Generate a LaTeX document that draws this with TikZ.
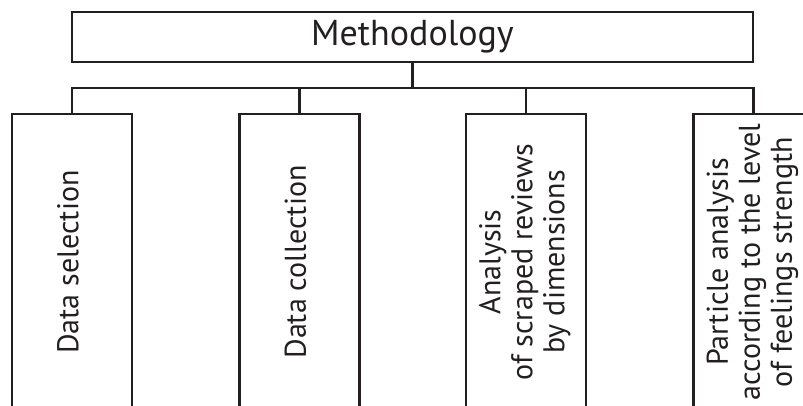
\documentclass[tikz,border=0pt]{standalone}
\usepackage{fontspec}
\setmainfont{PT Sans}
\usetikzlibrary{positioning}
\definecolor{inkgray}{HTML}{231F20}

\tikzset{
  topbox/.style={draw=inkgray, line width=2.4pt, minimum width=681pt, minimum height=50pt,
    inner sep=0pt, font=\fontsize{36}{38}\selectfont, text=inkgray},
  stagebox/.style={draw=inkgray, line width=2.4pt, minimum width=120pt, minimum height=296pt,
    inner sep=0pt, font=\fontsize{30}{32}\selectfont, text=inkgray},
  link/.style={draw=inkgray, line width=2.4pt}
}
\newcommand{\uptext}[1]{\rotatebox{90}{\begin{tabular}{@{}c@{}}#1\end{tabular}}}

\begin{document}
\begin{tikzpicture}[x=1pt, y=-1pt]
    \clip (0,0) rectangle (803,405);
    \useasboundingbox (0,0) rectangle (803,405);

    % Top box
    \node[topbox] (method) at (412.5,37) {Methodology};

    % Stages
    \node[stagebox] (sel) at (72,262) {\uptext{Data selection}};
    \node[stagebox] (col) at (299.5,262) {\uptext{Data collection}};
    \node[stagebox] (ana) at (526,262) {\uptext{Analysis\\of scraped reviews\\by dimensions}};
    \node[stagebox] (par) at (753.5,262) {\uptext{Particle analysis\\according to the level\\of feelings strength}};

    % Connectors
    \coordinate (bus) at (412.5,88);
    \draw[link] (method.south) -- (bus);
    \draw[link] (sel.north) |- (bus) -| (par.north);
    \foreach \s in {col, ana} {
        \draw[link] (\s.north) -- (\s.north |- bus);
    }
\end{tikzpicture}
\end{document}
